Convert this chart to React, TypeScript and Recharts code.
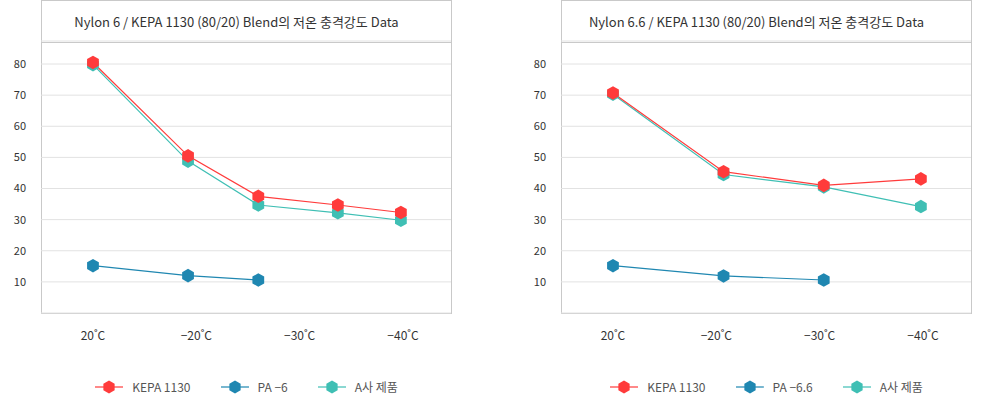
import React from 'react';
import { LineChart, Line, XAxis, YAxis, CartesianGrid } from 'recharts';

const tickPos = [0, 1, 2, 3];
const tickLabels = ['20˚C', '−20˚C', '−30˚C', '−40˚C'];
const yTicks = [10, 20, 30, 40, 50, 60, 70, 80];

// Nylon 6
const n6Title = 'Nylon 6 / KEPA 1130 (80/20) Blend의 저온 충격강도 Data';
const n6X = [0, 0.92, 1.6, 2.37, 2.98];
const n6Kepa = [80.5, 50.5, 37.5, 34.7, 32.3];
const n6Pa = [15.2, 12, 10.6];
const n6Asa = [79.8, 48.8, 34.7, 32.2, 29.8];

// Nylon 6.6
const n66Title = 'Nylon 6.6 / KEPA 1130 (80/20) Blend의 저온 충격강도 Data';
const n66X = [0, 1.07, 2.04, 2.98];
const n66Kepa = [70.7, 45.4, 41, 43.1];
const n66Pa = [15.2, 11.9, 10.6];
const n66Asa = [70.3, 44.5, 40.5, 34.2];

const RED = '#ff3b3b';
const BLUE = '#1f87b1';
const TEAL = '#3fbfb4';
const FONT = '"Noto Sans CJK KR", "Noto Sans", sans-serif';

const hexPoints = (cx: number, cy: number, r: number) =>
  [0, 1, 2, 3, 4, 5]
    .map((i) => {
      const a = (Math.PI / 3) * i - Math.PI / 2;
      return `${cx + r * Math.cos(a)},${cy + r * Math.sin(a)}`;
    })
    .join(' ');

const hexDot = (color: string) => (props: any) => {
  const { cx, cy, index, value } = props;
  if (value == null || cx == null || cy == null) return <g key={`e-${index}`} />;
  return <polygon key={`h-${index}`} points={hexPoints(cx, cy, 6.8)} fill={color} />;
};

const LegendItem = ({ color, label }: { color: string; label: string }) => (
  <div style={{ display: 'flex', alignItems: 'center', gap: 9 }}>
    <svg width={28} height={14}>
      <line x1={0} y1={7} x2={28} y2={7} stroke={color} strokeWidth={1.2} />
      <polygon points={hexPoints(14, 7, 6.5)} fill={color} />
    </svg>
    <span>{label}</span>
  </div>
);

const Panel = ({
  left, title, xs, kepa, pa, asa, paLabel,
}: {
  left: number; title: string; xs: number[]; kepa: number[]; pa: number[]; asa: number[]; paLabel: string;
}) => {
  const rows = xs.map((x, i) => ({ x, kepa: kepa[i], pa: pa[i], asa: asa[i] }));
  return (
    <div style={{ position: 'absolute', left, top: 0, width: 461, height: 396 }}>
      <div
        style={{
          position: 'absolute', left: 41, top: 0, width: 411, height: 314,
          boxSizing: 'border-box', border: '1px solid #c9c9c9',
        }}
      >
        <div
          style={{
            height: 42, boxSizing: 'border-box', borderBottom: '1px solid #c9c9c9',
            display: 'flex', alignItems: 'center', justifyContent: 'center', paddingRight: 20,
            fontSize: 13, color: '#333', fontFamily: FONT,
          }}
        >
          {title}
        </div>
      </div>
      <div style={{ position: 'absolute', left: 0, top: 0 }}>
        <LineChart width={461} height={396} data={rows} margin={{ top: 41, right: 10, left: 0, bottom: 53 }}>
          <CartesianGrid vertical={false} stroke="#e2e2e2" />
          <XAxis
            dataKey="x"
            type="number"
            domain={[-0.503, 3.465]}
            ticks={tickPos}
            tickFormatter={(v: number) => tickLabels[v]}
            axisLine={false}
            tickLine={false}
            tickMargin={12}
            height={30}
            tick={{ fontSize: 12, fill: '#333', fontFamily: FONT }}
            allowDataOverflow
          />
          <YAxis
            type="number"
            domain={[0, 87.4]}
            ticks={yTicks}
            axisLine={false}
            tickLine={false}
            tickMargin={9}
            width={41}
            tick={{ fontSize: 11, fill: '#333', fontFamily: FONT }}
            allowDataOverflow
          />
          <Line dataKey="pa" stroke={BLUE} strokeWidth={1.2} dot={hexDot(BLUE)} activeDot={false} isAnimationActive={false} />
          <Line dataKey="asa" stroke={TEAL} strokeWidth={1.2} dot={hexDot(TEAL)} activeDot={false} isAnimationActive={false} />
          <Line dataKey="kepa" stroke={RED} strokeWidth={1.2} dot={hexDot(RED)} activeDot={false} isAnimationActive={false} />
        </LineChart>
      </div>
      <div
        style={{
          position: 'absolute', left: 41, width: 411, top: 378, display: 'flex', justifyContent: 'center',
          gap: 30, fontSize: 12, color: '#555', fontFamily: FONT,
        }}
      >
        <LegendItem color={RED} label="KEPA 1130" />
        <LegendItem color={BLUE} label={paLabel} />
        <LegendItem color={TEAL} label="A사 제품" />
      </div>
    </div>
  );
};

export default function App() {
  return (
    <div style={{ position: 'absolute', left: 0, top: 0, width: 981, height: 396, background: '#fff' }}>
      <Panel left={0} title={n6Title} xs={n6X} kepa={n6Kepa} pa={n6Pa} asa={n6Asa} paLabel="PA −6" />
      <Panel left={520} title={n66Title} xs={n66X} kepa={n66Kepa} pa={n66Pa} asa={n66Asa} paLabel="PA −6.6" />
    </div>
  );
}
